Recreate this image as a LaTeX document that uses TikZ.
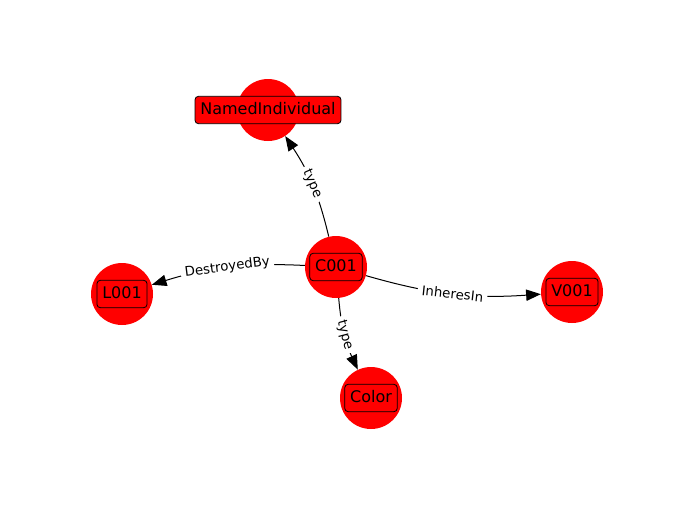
\documentclass[tikz,border=0pt]{standalone}
\usepackage{fontspec}
\setmainfont{DejaVu Sans}
\usetikzlibrary{arrows.meta}

\begin{document}
\begin{tikzpicture}[x=0.75pt,y=-0.75pt,
                vertex/.style={circle,fill=red,minimum size=46.5pt,inner sep=0pt},
                tag/.style={draw=black,fill=red,rounded corners=2.5pt,line width=0.6pt,
                    font=\fontsize{12}{14}\selectfont,text height=9pt,text depth=2.5pt,
                    inner xsep=4pt,inner ysep=4.5pt},
                rel/.style={-{Triangle[length=11pt,width=8.5pt]},line width=0.75pt,bend right=10},
                lbl/.style={fill=white,inner sep=3pt,font=\fontsize{10}{12}\selectfont,sloped}]
  \useasboundingbox (0,0) rectangle (693,508);
  % vertices
  \node[vertex] (named) at (268,110) {};
  \node[vertex] (c001) at (336,267) {};
  \node[vertex] (l001) at (122,294) {};
  \node[vertex] (v001) at (572,292) {};
  \node[vertex] (color) at (371,398) {};
  % edges
  \draw[rel] (c001) to node[lbl] {type} (named);
  \draw[rel] (c001) to node[lbl] {DestroyedBy} (l001);
  \draw[rel] (c001) to node[lbl] {InheresIn} (v001);
  \draw[rel] (c001) to node[lbl] {type} (color);
  % labels
  \node[tag] (namedtag) at (named) {NamedIndividual};
  \node[tag] (c001tag) at (c001) {C001};
  \node[tag] (l001tag) at (l001) {L001};
  \node[tag] (v001tag) at (v001) {V001};
  \node[tag] (colortag) at (color) {Color};
\end{tikzpicture}
\end{document}
